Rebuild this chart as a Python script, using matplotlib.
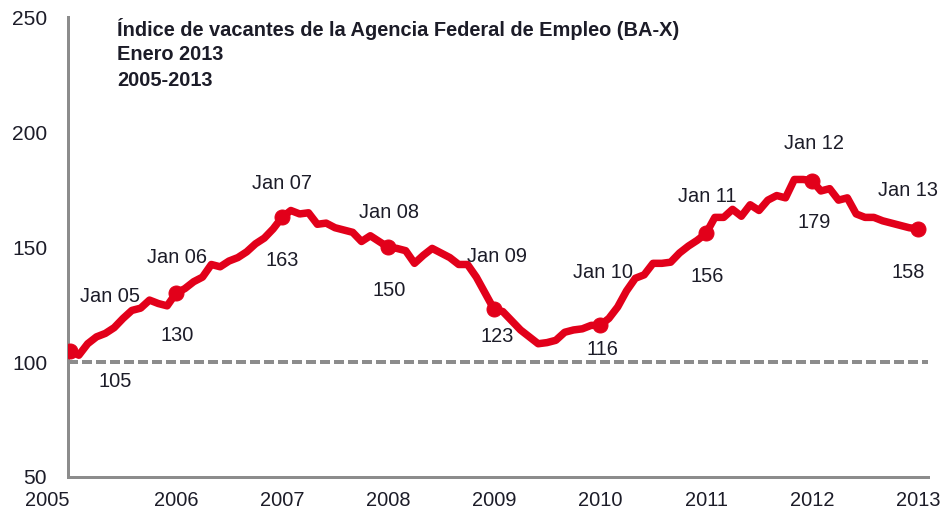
import matplotlib
matplotlib.use("Agg")
import matplotlib.pyplot as plt
import numpy as np

# monthly index, Jan 2005 .. Jan 2013
values = [
    105, 103, 108, 111, 112.5, 115, 119, 122.5, 123.5, 127, 125.5, 124.5,
    130, 132, 135, 137, 142.5, 141.5, 144, 145.5, 148, 151.5, 154, 158,
    163, 166, 164.5, 165, 160, 160.5, 158.5, 157.5, 156.5, 152.5, 155, 152.5,
    150, 149.5, 148.5, 143, 146.5, 149.5, 147.5, 145.5, 142.5, 142.5, 137, 130,
    123, 122, 118, 114, 111, 108, 108.5, 109.5, 113, 114, 114.5, 116,
    116, 119, 124, 131, 136.5, 138, 143, 143, 143.5, 147.5, 150.5, 153,
    156, 163, 163, 166.5, 163.5, 168.5, 166, 170.5, 172.5, 171.5, 179.5, 179.5,
    179, 174.5, 175.5, 170.5, 171.5, 164.5, 163, 163, 161.5, 160.5, 159.5, 158.5,
    158,
]
jan_labels = ["Jan 05", "Jan 06", "Jan 07", "Jan 08", "Jan 09",
              "Jan 10", "Jan 11", "Jan 12", "Jan 13"]
jan_values = [105, 130, 163, 150, 123, 116, 156, 179, 158]
years = ["2005", "2006", "2007", "2008", "2009", "2010", "2011", "2012", "2013"]
title_lines = ["Índice de vacantes de la Agencia Federal de Empleo (BA-X)",
               "Enero 2013", "2005-2013"]

red = "#e2001a"
grey = "#8c8c8c"
txt = "#1c1c28"
fam = ["Liberation Sans", "DejaVu Sans"]

fig = plt.figure(figsize=(946 / 72, 517 / 72), dpi=72)
ax = fig.add_axes([68 / 946, (517 - 477) / 517, 860 / 946, 459.5 / 517])

months = np.arange(len(values))
jan_x = months[::12]

ax.axhline(100, color=grey, lw=4, ls=(0, (2.5, 1)), zorder=1)
ax.plot(months, values, color=red, lw=7.5, solid_joinstyle="round",
        solid_capstyle="round", zorder=3)
ax.plot(jan_x, jan_values, "o", color=red, ms=15, zorder=4)

# label offsets (px) for "Jan xx" above and the value below
lab_off = [(40, 54), (1, 36), (0, 34), (1, 35), (3, 53), (3, 53), (1, 37), (2, 37), (-10, 38)]
val_off = [(45, -31), (1, -42), (0, -43), (1, -43), (3, -27), (2, -24), (1, -43), (2, -42), (-10, -44)]
for i in range(len(jan_labels)):
    ax.annotate(jan_labels[i], (jan_x[i], jan_values[i]), xytext=lab_off[i],
                textcoords="offset points", ha="center", va="center",
                fontsize=20, color=txt, family=fam)
    ax.annotate(str(jan_values[i]), (jan_x[i], jan_values[i]), xytext=val_off[i],
                textcoords="offset points", ha="center", va="center",
                fontsize=20, color=txt, family=fam)

ax.set_xlim(-0.226, 97.13)
ax.set_ylim(50, 250)
ax.set_yticks([50, 100, 150, 200, 250])
ax.set_xticks(jan_x)
ax.set_xticklabels(years)
ax.get_xticklabels()[0].set_horizontalalignment("right")
ax.tick_params(length=0, labelsize=20, labelcolor=txt)
ax.tick_params(axis="y", labelsize=21, pad=21)
ax.tick_params(axis="x", pad=14)
for lab in ax.get_xticklabels() + ax.get_yticklabels():
    lab.set_family(fam)

for s in ["top", "right"]:
    ax.spines[s].set_visible(False)
for s in ["left", "bottom"]:
    ax.spines[s].set_color(grey)
    ax.spines[s].set_linewidth(3)

for k, line in enumerate(title_lines):
    fig.text(117 / 946, 1 - (29 + 26 * k) / 517, line, ha="left", va="center",
             fontsize=20, fontweight="bold", color=txt,
             family=["Liberation Sans Narrow", "Liberation Sans", "DejaVu Sans"])

fig.savefig("out.png", dpi=72)
